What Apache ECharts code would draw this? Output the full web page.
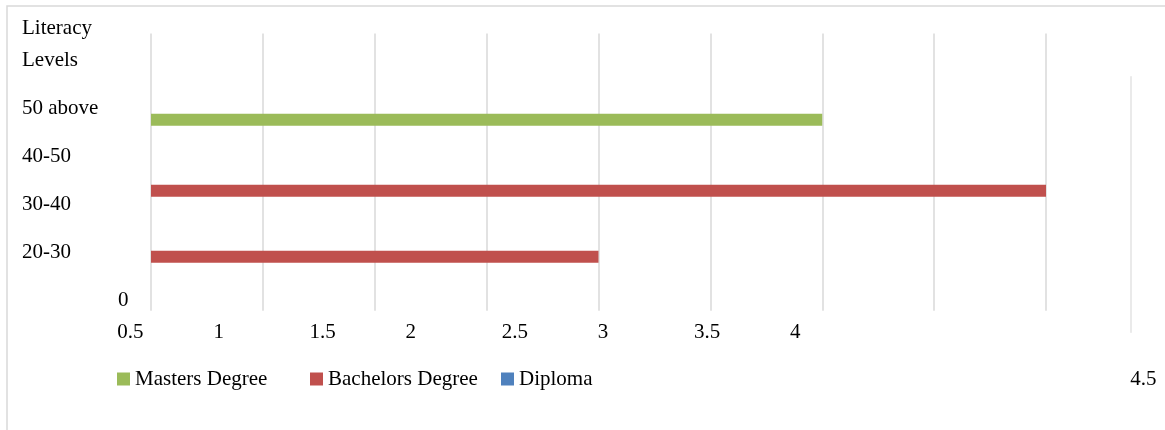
<!DOCTYPE html>
<html>
<head>
<meta charset="utf-8">
<script src="https://cdn.jsdelivr.net/npm/echarts@6/dist/echarts.min.js"></script>
<style>
html, body { margin: 0; padding: 0; background: #fff; }
#chart { width: 1165px; height: 430px; }
</style>
</head>
<body>
<div id="chart"></div>
<script>
// data
var ageGroups = ['20-30', '30-40', '40-50', '50 above'];
var yLabels = ['0', '20-30', '30-40', '40-50', '50 above'];
var xTickLabels = ['0.5', '1', '1.5', '2', '2.5', '3', '3.5', '4', '4.5'];
var masters = [null, null, 3.5, null];
var bachelors = [2.5, 4.5, null, null];
var diploma = [null, null, null, null];

var FONT = "'Liberation Serif', 'Times New Roman', serif";
var FS = 21;
var GRIDLINE = '#d9d9d9';

function legendFor(name, left) {
  return {
    data: [name],
    left: left,
    top: 368.5,
    padding: 0,
    icon: 'rect',
    itemWidth: 13,
    itemHeight: 13,
    textStyle: { fontFamily: FONT, fontSize: FS, color: '#000' }
  };
}

var myChart = echarts.init(document.getElementById('chart'));

var option = {
  animation: false,
  backgroundColor: '#fff',
  graphic: [{
    type: 'rect',
    silent: true,
    z: -10,
    shape: { x: 7, y: 6, width: 1200, height: 500 },
    style: { fill: 'none', stroke: GRIDLINE, lineWidth: 1.5 }
  }],
  legend: [
    legendFor('Masters Degree', 117),
    legendFor('Bachelors Degree', 310),
    legendFor('Diploma', 501)
  ],
  grid: [
    // 0: vertical gridlines
    { left: 151, right: 119, top: 33.5, bottom: 119.3 },
    // 1: bars
    { left: 151, right: 119, top: 23.3, bottom: 142.7 },
    // 2: y labels
    { left: 22, width: 10, top: 84, bottom: 106 },
    // 3: x tick labels
    { left: 117.3, right: 375, top: 300, bottom: 108 },
    // 4: the stray line on the right
    { left: 1130.3, width: 10, top: 76.7, bottom: 97.7 }
  ],
  xAxis: [
    {
      gridIndex: 0, type: 'value', min: 0.5, max: 4.5, interval: 0.5,
      axisLine: { show: false }, axisTick: { show: false }, axisLabel: { show: false },
      splitLine: { show: true, lineStyle: { color: GRIDLINE, width: 1.5 } }
    },
    {
      gridIndex: 1, type: 'value', min: 0.5, max: 4.5, interval: 0.5,
      axisLine: { show: false }, axisTick: { show: false }, axisLabel: { show: false },
      splitLine: { show: false }
    },
    { gridIndex: 2, type: 'value', show: false },
    {
      gridIndex: 3, type: 'category', boundaryGap: false,
      data: xTickLabels.slice(0, 8),
      axisLine: { show: false }, axisTick: { show: false },
      splitLine: { show: false },
      axisLabel: {
        interval: 0, align: 'left', verticalAlign: 'middle', margin: 10,
        fontFamily: FONT, fontSize: FS, color: '#000'
      }
    },
    { gridIndex: 4, type: 'value', show: false }
  ],
  yAxis: [
    {
      gridIndex: 0, type: 'value', min: 0, max: 1,
      axisLine: { show: false }, axisTick: { show: false }, axisLabel: { show: false },
      splitLine: { show: false }
    },
    {
      gridIndex: 1, type: 'category', data: ageGroups,
      axisLine: { show: false }, axisTick: { show: false }, axisLabel: { show: false },
      splitLine: { show: false }
    },
    {
      gridIndex: 2, type: 'category', data: yLabels,
      name: 'Literacy\nLevels',
      nameLocation: 'end',
      nameGap: 8,
      nameTextStyle: {
        align: 'left', verticalAlign: 'bottom', lineHeight: 32,
        fontFamily: FONT, fontSize: FS, color: '#000'
      },
      axisLine: { show: false }, axisTick: { show: false },
      splitLine: { show: false },
      axisLabel: {
        inside: true, margin: 0, align: 'left', interval: 0,
        fontFamily: FONT, fontSize: FS, color: '#000',
        formatter: function (v) { return v === '0' ? '{z|0}' : v; },
        rich: { z: { padding: [0, 0, 0, 96], fontFamily: FONT, fontSize: FS, color: '#000' } }
      }
    },
    { gridIndex: 3, type: 'value', show: false },
    {
      gridIndex: 4, type: 'value', min: 0, max: 1,
      name: xTickLabels[8],
      nameLocation: 'start',
      nameGap: 47.5,
      nameTextStyle: {
        align: 'left', verticalAlign: 'middle',
        fontFamily: FONT, fontSize: FS, color: '#000'
      },
      axisLine: { show: true, lineStyle: { color: '#e3e3e3', width: 1.5 } },
      axisTick: { show: false }, axisLabel: { show: false },
      splitLine: { show: false }
    }
  ],
  series: [
    {
      name: 'Masters Degree', type: 'bar', xAxisIndex: 1, yAxisIndex: 1,
      barWidth: 12, barGap: '-58.33%',
      itemStyle: { color: '#9BBB59' },
      data: masters
    },
    {
      name: 'Bachelors Degree', type: 'bar', xAxisIndex: 1, yAxisIndex: 1,
      stack: 'bd', barWidth: 12, barGap: '-58.33%',
      itemStyle: { color: '#C0504D' },
      data: bachelors
    },
    {
      name: 'Diploma', type: 'bar', xAxisIndex: 1, yAxisIndex: 1,
      stack: 'bd', barWidth: 12, barGap: '-58.33%',
      itemStyle: { color: '#4F81BD' },
      data: diploma
    }
  ]
};

myChart.setOption(option);
</script>
</body>
</html>
